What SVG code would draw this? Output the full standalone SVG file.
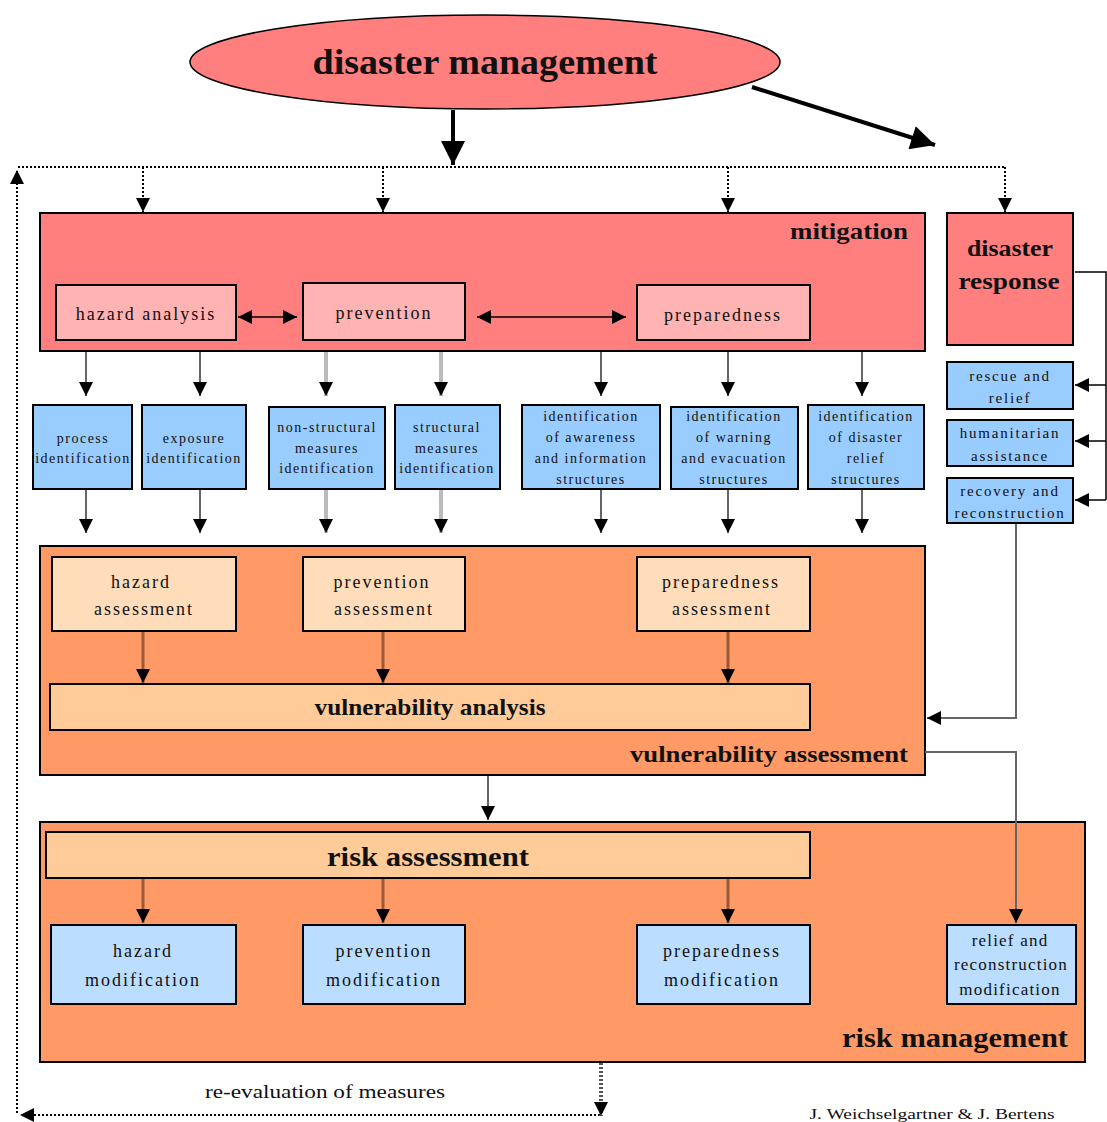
<svg xmlns="http://www.w3.org/2000/svg" width="1107" height="1122" viewBox="0 0 1107 1122">
<style>
text{font-family:"Liberation Serif","Times New Roman",serif;fill:#111;text-anchor:middle}
.b{font-weight:bold}
.s{font-size:14px;letter-spacing:1.5px}
.r{font-size:15px;letter-spacing:1.8px}
.m{font-size:18px;letter-spacing:2px}
.box{stroke:#000;stroke-width:2}
.red{fill:#FF7F7F}
.pink{fill:#FFB3B3}
.blue{fill:#99CCFF}
.lblue{fill:#BBDDFF}
.org{fill:#FF9966}
.peach{fill:#FFDDBB}
.lo{fill:#FFCC99}
.c{fill:none;stroke:#666;stroke-width:2}
.cl{fill:none;stroke:#bbb;stroke-width:4}
.cb{fill:none;stroke:#000;stroke-width:1.5}
.cd{fill:none;stroke:#9a5a3a;stroke-width:3}
.dot{fill:none;stroke:#000;stroke-width:2;stroke-dasharray:2 2}
</style>
<defs>
<marker id="ah" viewBox="0 0 10 10" refX="10" refY="5" markerWidth="14" markerHeight="14" markerUnits="userSpaceOnUse" orient="auto-start-reverse"><path d="M0,0 L10,5 L0,10 z" fill="#000"/></marker>
<marker id="big" viewBox="0 0 10 10" refX="10" refY="5" markerWidth="28" markerHeight="24" markerUnits="userSpaceOnUse" orient="auto"><path d="M0,0 L10,5 L0,10 z" fill="#000"/></marker>
</defs>

<g id="disaster-management">
<ellipse cx="485" cy="62" rx="295" ry="47" fill="#FF7F7F" stroke="#000" stroke-width="1.5"/>
<text x="485" y="74" class="b" font-size="36" textLength="345" lengthAdjust="spacingAndGlyphs">disaster management</text>
</g>

<g id="mitigation">
<rect x="40" y="213" width="885" height="138" class="box red"/>
<text x="908" y="239" class="b" font-size="24" style="text-anchor:end" textLength="118" lengthAdjust="spacingAndGlyphs">mitigation</text>
</g>
<g id="hazard-analysis"><rect x="56" y="285" width="180" height="55" class="box pink"/><text x="146" y="320" class="m">hazard analysis</text></g>
<g id="prevention"><rect x="303" y="283" width="162" height="57" class="box pink"/><text x="384" y="319" class="m">prevention</text></g>
<g id="preparedness"><rect x="637" y="285" width="173" height="55" class="box pink"/><text x="723" y="321" class="m">preparedness</text></g>

<g id="disaster-response">
<rect x="947" y="213" width="126" height="132" class="box red"/>
<text x="1010" y="256" class="b" font-size="24" textLength="86" lengthAdjust="spacingAndGlyphs">disaster</text>
<text x="1009" y="289" class="b" font-size="24" textLength="101" lengthAdjust="spacingAndGlyphs">response</text>
</g>
<g id="rescue-relief"><rect x="947" y="362" width="126" height="47" class="box blue"/><text x="1010" y="381" class="r">rescue and</text><text x="1010" y="403" class="r">relief</text></g>
<g id="humanitarian"><rect x="947" y="420" width="126" height="46" class="box blue"/><text x="1010" y="438" class="r">humanitarian</text><text x="1010" y="461" class="r">assistance</text></g>
<g id="recovery"><rect x="947" y="478" width="126" height="45" class="box blue"/><text x="1010" y="496" class="r">recovery and</text><text x="1010" y="518" class="r">reconstruction</text></g>

<g id="process-id"><rect x="33" y="405" width="99" height="84" class="box blue"/><text x="83" y="443" class="s">process</text><text x="83" y="463" class="s">identification</text></g>
<g id="exposure-id"><rect x="142" y="405" width="104" height="84" class="box blue"/><text x="194" y="443" class="s">exposure</text><text x="194" y="463" class="s">identification</text></g>
<g id="nonstruct-id"><rect x="269" y="407" width="116" height="82" class="box blue"/><text x="327" y="432" class="s">non-structural</text><text x="327" y="453" class="s">measures</text><text x="327" y="473" class="s">identification</text></g>
<g id="struct-id"><rect x="395" y="405" width="105" height="84" class="box blue"/><text x="447" y="432" class="s">structural</text><text x="447" y="453" class="s">measures</text><text x="447" y="473" class="s">identification</text></g>
<g id="awareness-id"><rect x="522" y="405" width="138" height="84" class="box blue"/><text x="591" y="421" class="s">identification</text><text x="591" y="442" class="s">of awareness</text><text x="591" y="463" class="s">and information</text><text x="591" y="484" class="s">structures</text></g>
<g id="warning-id"><rect x="671" y="407" width="127" height="82" class="box blue"/><text x="734" y="421" class="s">identification</text><text x="734" y="442" class="s">of warning</text><text x="734" y="463" class="s">and evacuation</text><text x="734" y="484" class="s">structures</text></g>
<g id="relief-id"><rect x="808" y="405" width="116" height="84" class="box blue"/><text x="866" y="421" class="s">identification</text><text x="866" y="442" class="s">of disaster</text><text x="866" y="463" class="s">relief</text><text x="866" y="484" class="s">structures</text></g>

<g id="vulnerability-assessment">
<rect x="40" y="546" width="885" height="229" class="box org"/>
<text x="908" y="762" class="b" font-size="24" style="text-anchor:end" textLength="278" lengthAdjust="spacingAndGlyphs">vulnerability assessment</text>
</g>
<g id="hazard-assessment"><rect x="52" y="557" width="184" height="74" class="box peach"/><text x="141" y="588" class="m">hazard</text><text x="144" y="615" class="m">assessment</text></g>
<g id="prevention-assessment"><rect x="303" y="557" width="162" height="74" class="box peach"/><text x="382" y="588" class="m">prevention</text><text x="384" y="615" class="m">assessment</text></g>
<g id="preparedness-assessment"><rect x="637" y="557" width="173" height="74" class="box peach"/><text x="721" y="588" class="m">preparedness</text><text x="722" y="615" class="m">assessment</text></g>
<g id="vulnerability-analysis"><rect x="50" y="684" width="760" height="46" class="box lo"/><text x="430" y="715" class="b" font-size="24" textLength="231" lengthAdjust="spacingAndGlyphs">vulnerability analysis</text></g>

<g id="risk-management">
<rect x="40" y="822" width="1045" height="240" class="box org"/>
<text x="1068" y="1047" class="b" font-size="28" style="text-anchor:end" textLength="226" lengthAdjust="spacingAndGlyphs">risk management</text>
</g>
<g id="risk-assessment"><rect x="46" y="832" width="764" height="46" class="box lo"/><text x="428" y="866" class="b" font-size="28" textLength="202" lengthAdjust="spacingAndGlyphs">risk assessment</text></g>
<g id="hazard-modification"><rect x="51" y="925" width="185" height="79" class="box lblue"/><text x="143" y="957" class="m">hazard</text><text x="143" y="986" class="m">modification</text></g>
<g id="prevention-modification"><rect x="303" y="925" width="162" height="79" class="box lblue"/><text x="384" y="957" class="m">prevention</text><text x="384" y="986" class="m">modification</text></g>
<g id="preparedness-modification"><rect x="637" y="925" width="173" height="79" class="box lblue"/><text x="722" y="957" class="m">preparedness</text><text x="722" y="986" class="m">modification</text></g>
<g id="relief-modification"><rect x="947" y="925" width="129" height="79" class="box lblue"/><text x="1010" y="946" class="m" style="font-size:17px;letter-spacing:1.2px">relief and</text><text x="1011" y="970" class="m" style="font-size:17px;letter-spacing:1.2px">reconstruction</text><text x="1010" y="995" class="m" style="font-size:17px;letter-spacing:1.2px">modification</text></g>

<text x="325" y="1098" font-size="18" textLength="240" lengthAdjust="spacingAndGlyphs">re-evaluation of measures</text>
<text x="932" y="1119" font-size="14" textLength="245" lengthAdjust="spacingAndGlyphs">J. Weichselgartner &amp; J. Bertens</text>

<g id="connectors">
<line x1="453" y1="110" x2="453" y2="165" stroke="#000" stroke-width="4" marker-end="url(#big)"/>
<line x1="752" y1="87" x2="935" y2="145" stroke="#000" stroke-width="4" marker-end="url(#big)"/>
<path class="dot" d="M18,167 H1005"/>
<path class="dot" d="M143,167 V212" marker-end="url(#ah)"/>
<path class="dot" d="M383,167 V212" marker-end="url(#ah)"/>
<path class="dot" d="M728,167 V212" marker-end="url(#ah)"/>
<path class="dot" d="M1005,167 V212" marker-end="url(#ah)"/>
<path class="dot" d="M17,1113 V170" marker-end="url(#ah)"/>
<path class="dot" d="M600,1115 H20" marker-end="url(#ah)"/>
<path class="dot" style="stroke:#555;stroke-width:4" d="M601,1063 V1116" marker-end="url(#ah)"/>
<path class="cb" d="M238,317 H297" marker-start="url(#ah)" marker-end="url(#ah)"/>
<path class="cb" d="M477,317 H626" marker-start="url(#ah)" marker-end="url(#ah)"/>
<path class="c" d="M86,352 V396" marker-end="url(#ah)"/>
<path class="c" d="M200,352 V396" marker-end="url(#ah)"/>
<path class="cl" d="M326,352 V396" marker-end="url(#ah)"/>
<path class="cl" d="M441,352 V396" marker-end="url(#ah)"/>
<path class="c" d="M601,352 V396" marker-end="url(#ah)"/>
<path class="c" d="M728,352 V396" marker-end="url(#ah)"/>
<path class="c" d="M862,352 V396" marker-end="url(#ah)"/>
<path class="c" d="M86,490 V533" marker-end="url(#ah)"/>
<path class="c" d="M200,490 V533" marker-end="url(#ah)"/>
<path class="cl" d="M326,490 V533" marker-end="url(#ah)"/>
<path class="cl" d="M441,490 V533" marker-end="url(#ah)"/>
<path class="c" d="M601,490 V533" marker-end="url(#ah)"/>
<path class="c" d="M728,490 V533" marker-end="url(#ah)"/>
<path class="c" d="M862,490 V533" marker-end="url(#ah)"/>
<path class="cb" d="M1075,272 H1106 V500"/>
<path class="cb" d="M1106,385 H1075" marker-end="url(#ah)"/>
<path class="cb" d="M1106,441 H1075" marker-end="url(#ah)"/>
<path class="cb" d="M1106,500 H1075" marker-end="url(#ah)"/>
<path class="c" d="M1016,524 V718 H927" marker-end="url(#ah)"/>
<path class="cd" d="M143,632 V683" marker-end="url(#ah)"/>
<path class="cd" d="M383,632 V683" marker-end="url(#ah)"/>
<path class="cd" d="M728,632 V683" marker-end="url(#ah)"/>
<path class="c" d="M925,752 H1016 V923" marker-end="url(#ah)"/>
<path class="c" d="M488,776 V820" marker-end="url(#ah)"/>
<path class="cd" d="M143,879 V923" marker-end="url(#ah)"/>
<path class="cd" d="M383,879 V923" marker-end="url(#ah)"/>
<path class="cd" d="M728,879 V923" marker-end="url(#ah)"/>
</g>
</svg>
